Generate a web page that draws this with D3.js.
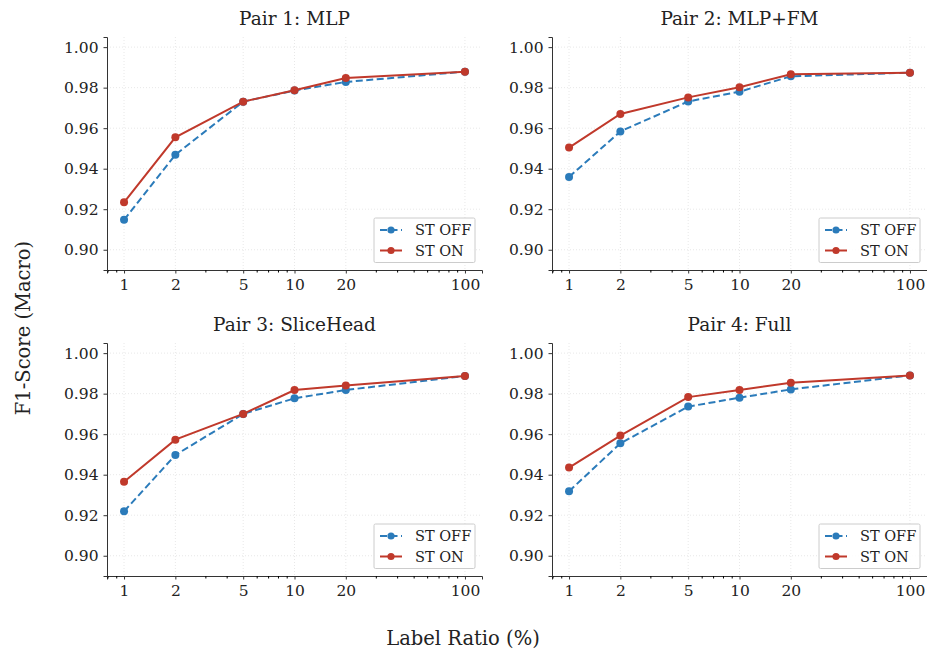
<!DOCTYPE html>
<html lang="en">
<head>
    <meta charset="UTF-8">
    <title>F1-Score vs Label Ratio</title>
    <script src="https://d3js.org/d3.v7.min.js" charset="utf-8"></script>
    <style>
        body { margin: 0; background: white; }
        svg { display: block; background: white; }
        text { font-family: "DejaVu Serif", serif; fill: #222; }
    </style>
</head>
<body>
    <div id="chart"></div>
    <script>
        // chart data
        var ratios = [1, 2, 5, 10, 20, 100];
        var pairTitles = ['Pair 1: MLP', 'Pair 2: MLP+FM', 'Pair 3: SliceHead', 'Pair 4: Full'];
        var stOff = [
            [0.9148, 0.9469, 0.9731, 0.9786, 0.9828, 0.9879],
            [0.9359, 0.9584, 0.9732, 0.9780, 0.9856, 0.9874],
            [0.9219, 0.9497, 0.9700, 0.9777, 0.9818, 0.9887],
            [0.9318, 0.9555, 0.9736, 0.9780, 0.9821, 0.9890]
        ];
        var stOn = [
            [0.9234, 0.9555, 0.9731, 0.9787, 0.9848, 0.9879],
            [0.9504, 0.9670, 0.9752, 0.9802, 0.9866, 0.9874],
            [0.9365, 0.9573, 0.9700, 0.9818, 0.9840, 0.9887],
            [0.9435, 0.9593, 0.9783, 0.9818, 0.9854, 0.9890]
        ];
        var seriesNames = ['ST OFF', 'ST ON'];
        var yTicks = [0.90, 0.92, 0.94, 0.96, 0.98, 1.00];
        var xTicks = [1, 2, 5, 10, 20, 100];

        var blue = '#2b7bba';
        var red = '#c0392b';

        var svgWidth = 927;
        var svgHeight = 651;

        var svg = d3.select('#chart')
                    .append('svg')
                    .attr('width', svgWidth)
                    .attr('height', svgHeight);

        // panel layout
        var panelLeft = [107, 552];
        var panelTop = [37, 343];
        var w = 375;
        var h = 233;

        var xScale = d3.scaleLog()
                        .domain([Math.pow(10, -0.1), Math.pow(10, 2.1)])
                        .range([0, w]);

        var yScale = d3.scaleLinear()
                        .domain([0.89, 1.005])
                        .range([h, 0]);

        var minorTicks = xScale.ticks().filter(t => xTicks.indexOf(t) < 0);

        var line = d3.line()
                    .x((d, i) => xScale(ratios[i]))
                    .y(d => yScale(d));

        pairTitles.forEach(function(title, p) {
            var g = svg.append('g')
                        .attr('transform', 'translate(' + panelLeft[p % 2] + ',' + panelTop[Math.floor(p / 2)] + ')');

            // grid
            g.selectAll('.hgrid')
                .data(yTicks)
                .enter()
                .append('line')
                .attr('x1', 0).attr('x2', w)
                .attr('y1', d => yScale(d)).attr('y2', d => yScale(d))
                .attr('stroke', '#e2e2e2')
                .attr('stroke-width', 0.8)
                .attr('stroke-dasharray', '1,2');

            g.selectAll('.vgrid')
                .data(xTicks)
                .enter()
                .append('line')
                .attr('y1', 0).attr('y2', h)
                .attr('x1', d => xScale(d)).attr('x2', d => xScale(d))
                .attr('stroke', '#e2e2e2')
                .attr('stroke-width', 0.8)
                .attr('stroke-dasharray', '1,2');

            // axes
            var xAxis = g.append('g')
                .attr('transform', 'translate(0,' + h + ')')
                .call(d3.axisBottom(xScale).tickValues(xTicks).tickFormat(d3.format('d')).tickSizeOuter(0).tickSize(3.5).tickPadding(5));

            g.append('g')
                .attr('transform', 'translate(0,' + h + ')')
                .call(d3.axisBottom(xScale).tickValues(minorTicks).tickFormat('').tickSizeOuter(0).tickSize(2.5))
                .select('.domain').remove();

            var yAxis = g.append('g')
                .call(d3.axisLeft(yScale).tickValues(yTicks).tickFormat(d3.format('.2f')).tickSizeOuter(0).tickSize(3.5).tickPadding(5));

            [xAxis, yAxis].forEach(function(a) {
                a.selectAll('text')
                    .style('font-family', 'DejaVu Serif')
                    .style('font-size', '15.5px')
                    .attr('fill', '#222');
                a.selectAll('line').attr('stroke', '#333');
                a.select('.domain').attr('stroke', '#333').attr('stroke-width', 1);
            });

            // series
            var series = [
                { name: seriesNames[0], values: stOff[p], color: blue, dash: '7,3.5' },
                { name: seriesNames[1], values: stOn[p], color: red, dash: null }
            ];

            series.forEach(function(s) {
                g.append('path')
                    .datum(s.values)
                    .attr('d', line)
                    .attr('fill', 'none')
                    .attr('stroke', s.color)
                    .attr('stroke-width', 2)
                    .attr('stroke-dasharray', s.dash);

                g.selectAll(null)
                    .data(s.values)
                    .enter()
                    .append('circle')
                    .attr('cx', (d, i) => xScale(ratios[i]))
                    .attr('cy', d => yScale(d))
                    .attr('r', 4)
                    .attr('fill', s.color);
            });

            // title
            g.append('text')
                .attr('x', w / 2)
                .attr('y', -12)
                .attr('text-anchor', 'middle')
                .style('font-size', '18.5px')
                .text(title);

            // legend
            var legend = g.append('g')
                          .attr('transform', 'translate(' + (w - 108) + ',' + (h - 52) + ')');

            legend.append('rect')
                .attr('x', 0).attr('y', 0)
                .attr('width', 101).attr('height', 44.5)
                .attr('rx', 1.5)
                .attr('fill', 'white')
                .attr('fill-opacity', 0.85)
                .attr('stroke', '#cccccc')
                .attr('stroke-width', 1);

            series.forEach(function(s, i) {
                var yy = 12 + i * 20.5;
                legend.append('line')
                    .attr('x1', 6).attr('x2', 28)
                    .attr('y1', yy).attr('y2', yy)
                    .attr('stroke', s.color)
                    .attr('stroke-width', 2)
                    .attr('stroke-dasharray', s.dash ? '7,3.5' : null);
                legend.append('circle')
                    .attr('cx', 17).attr('cy', yy)
                    .attr('r', 3.6)
                    .attr('fill', s.color);
                legend.append('text')
                    .attr('x', 41)
                    .attr('y', yy)
                    .attr('dy', '0.35em')
                    .style('font-size', '14.5px')
                    .text(s.name);
            });
        });

        // shared axis labels
        svg.append('text')
            .attr('x', 463)
            .attr('y', 645)
            .attr('text-anchor', 'middle')
            .style('font-size', '19.5px')
            .text('Label Ratio (%)');

        svg.append('text')
            .attr('transform', 'translate(30,328) rotate(-90)')
            .attr('text-anchor', 'middle')
            .style('font-size', '19.5px')
            .text('F1-Score (Macro)');
    </script>
</body>
</html>
